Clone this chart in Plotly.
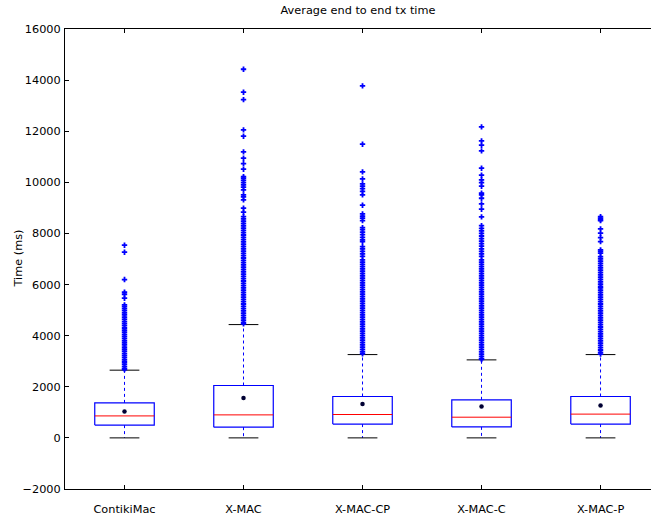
import plotly.graph_objects as go

categories = ["ContikiMac", "X-MAC", "X-MAC-CP", "X-MAC-C", "X-MAC-P"]
q1 = [500, 420, 540, 430, 540]
median = [860, 900, 915, 810, 930]
q3 = [1370, 2050, 1620, 1490, 1620]
mean = [1030, 1565, 1330, 1225, 1265]
whisker_low = [0, 0, 0, 0, 0]
whisker_high = [2650, 4434, 3260, 3052, 3260]

fliers_contikimac = [7540, 7266, 6195, 5700, 5620, 5466, 5204, 5140, 5060, 4980, 4890, 4810,
                     4720, 4640, 4550, 4470, 4390, 4300, 4220, 4140, 4050, 3970, 3890, 3800,
                     3720, 3640, 3550, 3470, 3390, 3300, 3220, 3140, 3050, 2970, 2890, 2800, 2720, 2670]
fliers_xmac = [14425, 13527, 13238, 12052, 11805, 11191, 10945, 10735, 10514, 10225, 10160, 10080,
               9990, 9900, 9810, 9704, 9508, 9430, 9313, 8987, 8831, 8660, 8570, 8480, 8390, 8300,
               8210, 8120, 8030, 7940, 7850, 7760, 7670, 7580, 7490, 7400, 7310, 7220, 7130, 7040,
               6950, 6860, 6770, 6680, 6590, 6500, 6410, 6320, 6230, 6140, 6050, 5960, 5870, 5780,
               5690, 5600, 5510, 5420, 5330, 5240, 5150, 5060, 4970, 4880, 4790, 4700, 4610, 4520, 4460]
fliers_xmac_cp = [13774, 11492, 10409, 10135, 9939, 9850, 9750, 9650, 9508, 9105, 8765, 8680, 8600,
                  8503, 8229, 8150, 8050, 7950, 7850, 7750, 7681, 7485, 7400, 7300, 7200, 7100, 6965,
                  6880, 6790, 6700, 6610, 6520, 6430, 6340, 6250, 6160, 6070, 5980, 5890, 5800, 5710,
                  5620, 5530, 5440, 5350, 5260, 5170, 5080, 4990, 4900, 4810, 4720, 4630, 4540, 4450,
                  4360, 4270, 4180, 4090, 4000, 3910, 3820, 3730, 3640, 3550, 3460, 3370, 3290]
fliers_xmac_c = [12170, 11622, 11453, 11230, 10553, 10280, 10096, 9990, 9849, 9575, 9508, 9378, 9155,
                 8948, 8648, 8307, 8200, 8100, 8000, 7900, 7800, 7700, 7600, 7500, 7400, 7300, 7200,
                 7100, 6965, 6880, 6790, 6700, 6610, 6520, 6430, 6340, 6250, 6160, 6070, 5980, 5890,
                 5800, 5710, 5620, 5530, 5440, 5350, 5260, 5170, 5080, 4990, 4900, 4810, 4720, 4630,
                 4540, 4450, 4360, 4270, 4180, 4090, 4000, 3910, 3820, 3730, 3640, 3550, 3460, 3370,
                 3280, 3190, 3100, 3070]
fliers_xmac_p = [8660, 8600, 8540, 8503, 8178, 8010, 7838, 7681, 7356, 7300, 7226, 7096, 7010, 6920,
                 6830, 6740, 6650, 6560, 6470, 6380, 6290, 6200, 6110, 6020, 5930, 5870, 5780, 5690,
                 5600, 5510, 5420, 5330, 5240, 5150, 5060, 4970, 4880, 4790, 4700, 4610, 4520, 4430,
                 4340, 4250, 4160, 4070, 3980, 3890, 3800, 3710, 3620, 3530, 3440, 3350, 3280]
fliers = [fliers_contikimac, fliers_xmac, fliers_xmac_cp, fliers_xmac_c, fliers_xmac_p]

positions = list(range(1, len(categories) + 1))
BOX_HALF = 0.25
CAP_HALF = 0.125

fig = go.Figure()

# whiskers (dashed blue)
wx, wy = [], []
for p, a, b, lo, hi in zip(positions, q1, q3, whisker_low, whisker_high):
    wx += [p, p, None, p, p, None]
    wy += [b, hi, None, a, lo, None]
fig.add_trace(go.Scatter(x=wx, y=wy, mode="lines", line=dict(color="#0000ff", width=1, dash="3px,3px"),
                         hoverinfo="skip", showlegend=False))

# boxes (blue)
bx, by = [], []
for p, a, b in zip(positions, q1, q3):
    bx += [p - BOX_HALF, p + BOX_HALF, p + BOX_HALF, p - BOX_HALF, p - BOX_HALF, None]
    by += [a, a, b, b, a, None]
fig.add_trace(go.Scatter(x=bx, y=by, mode="lines", line=dict(color="#0000ff", width=1.2),
                         hoverinfo="skip", showlegend=False))

# caps (black)
cx, cy = [], []
for p, lo, hi in zip(positions, whisker_low, whisker_high):
    cx += [p - CAP_HALF, p + CAP_HALF, None, p - CAP_HALF, p + CAP_HALF, None]
    cy += [hi, hi, None, lo, lo, None]
fig.add_trace(go.Scatter(x=cx, y=cy, mode="lines", line=dict(color="#000000", width=1),
                         hoverinfo="skip", showlegend=False))

# medians (red)
mx, my = [], []
for p, m in zip(positions, median):
    mx += [p - BOX_HALF, p + BOX_HALF, None]
    my += [m, m, None]
fig.add_trace(go.Scatter(x=mx, y=my, mode="lines", line=dict(color="#ff0000", width=1),
                         hoverinfo="skip", showlegend=False))

# fliers (blue +)
fx, fy = [], []
for p, fl in zip(positions, fliers):
    fx += [p] * len(fl)
    fy += fl
fig.add_trace(go.Scatter(x=fx, y=fy, mode="markers",
                         marker=dict(symbol="cross", size=4.5, color="#0000ff", line=dict(width=0)),
                         hoverinfo="skip", showlegend=False))

# means
fig.add_trace(go.Scatter(x=positions, y=mean, mode="markers",
                         marker=dict(symbol="circle", size=4.5, color="#000033"),
                         hoverinfo="skip", showlegend=False))

font = dict(family="DejaVu Sans", size=11.3, color="#000000")

fig.update_layout(
    width=652, height=518,
    margin=dict(l=65, r=1, t=29, b=29, autoexpand=False),
    paper_bgcolor="white", plot_bgcolor="white",
    font=font,
    title=dict(text="Average end to end tx time", font=font, xref="paper", x=0.5, xanchor="center",
               yref="container", y=1 - 10 / 518, yanchor="middle", automargin=False),
    xaxis=dict(range=[0.5, 5.424], tickmode="array", tickvals=positions, ticktext=categories,
               ticks="inside", ticklen=4, tickcolor="#000", showline=True, linecolor="#000", linewidth=1,
               mirror="ticks", showgrid=False, zeroline=False, ticklabelstandoff=9, automargin=False),
    yaxis=dict(range=[-2000, 16000], dtick=2000, tick0=0, tickformat="d", ticks="inside", ticklen=4,
               tickcolor="#000", showline=True, linecolor="#000", linewidth=1, showgrid=False,
               zeroline=False, ticklabelstandoff=1, automargin=False),
    annotations=[dict(text="Time (ms)", textangle=-90, xref="paper", yref="paper", x=0, y=0.5,
                      xshift=-47.5, xanchor="center", yanchor="middle", showarrow=False, font=font)],
)

fig.write_html("out.html", config={"displayModeBar": False},
               post_script="document.body.style.margin='0';document.body.style.padding='0';")
